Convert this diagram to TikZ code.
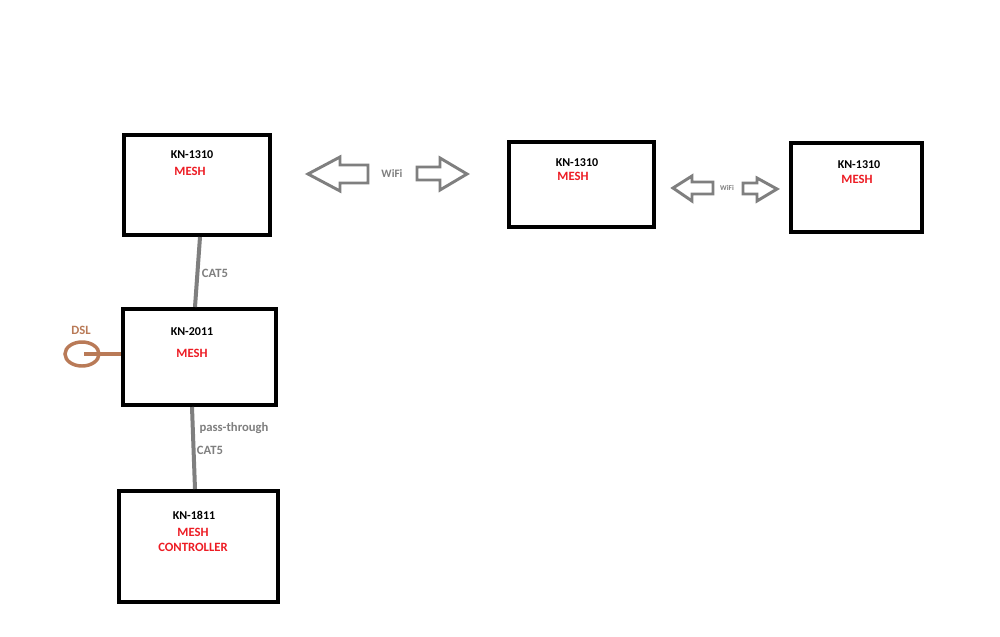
\documentclass[tikz,border=0pt]{standalone}
\usepackage{fontspec}
\setmainfont{Carlito}
\usetikzlibrary{calc,shapes.geometric}
\definecolor{meshred}{RGB}{237,28,36}
\definecolor{linegray}{RGB}{127,127,127}
\definecolor{dslbrown}{RGB}{185,122,87}
\tikzset{
  dev/.style={draw=black, line width=3pt, inner sep=0pt},
  title/.style={font=\bfseries\fontsize{9}{10}\selectfont, text=black, inner sep=0pt},
  redtxt/.style={font=\bfseries\fontsize{9.5}{10}\selectfont, text=meshred, inner sep=0pt},
  cable/.style={draw=linegray, line width=3pt},
  glabel/.style={font=\bfseries\fontsize{9.5}{10}\selectfont, text=linegray, inner sep=0pt},
  wifiarrow/.style={draw=linegray, line width=2.2pt, line join=miter},
}
\begin{document}
\begin{tikzpicture}[x=0.75pt, y=-0.75pt]
\useasboundingbox[fill=white] (0,0) rectangle (1000,636);
% boxes
\node[dev, minimum width=146*0.75pt, minimum height=100*0.75pt] (A) at (197,185) {};
\node[dev, minimum width=145*0.75pt, minimum height=85*0.75pt] (B) at (581.5,184.5) {};
\node[dev, minimum width=131*0.75pt, minimum height=89*0.75pt] (C) at (856.5,187.5) {};
\node[dev, minimum width=153*0.75pt, minimum height=96*0.75pt] (D) at (199.5,357) {};
\node[dev, minimum width=159*0.75pt, minimum height=111*0.75pt] (E) at (198.5,546.5) {};
% texts
\node[title] (At) at (192,155) {KN-1310};
\node[redtxt] (Am) at (190,171) {MESH};
\node[title] (Bt) at (577,163) {KN-1310};
\node[redtxt] (Bm) at (573,176) {MESH};
\node[title] (Ct) at (859,165) {KN-1310};
\node[redtxt] (Cm) at (857,179) {MESH};
\node[title] (Dt) at (192,332) {KN-2011};
\node[redtxt] (Dm) at (192,353) {MESH};
\node[title] (Et) at (194,515) {KN-1811};
\node[redtxt, align=center] (Em) at (193,540) {MESH\\[1pt]CONTROLLER};
% cables
\draw[cable] ($(A.south)+(3,0)$) -- ($(D.north)+(-4.5,0)$);
\node[glabel] (cat1) at (215,273) {CAT5};
\draw[cable] ($(D.south)+(-7.5,0)$) -- ($(E.north)+(-3.5,0)$);
\node[glabel] (pt) at (234,428) {pass-through};
\node[glabel] (cat2) at (210,450) {CAT5};
% DSL
\node[draw=dslbrown, line width=2.6pt, ellipse, minimum width=34*0.75pt, minimum height=24*0.75pt, inner sep=0pt] (dsl) at (82,354) {};
\coordinate (dslc) at (84,354);
\draw[draw=dslbrown, line width=2.6pt] (dslc) -- (D.west |- dslc);
\node[font=\bfseries\fontsize{9.5}{10}\selectfont, text=dslbrown, inner sep=0pt] (dslt) at (81,330) {DSL};
% wifi arrows 1
\draw[wifiarrow] (308,174) -- (340,157) -- (340,165) -- (368,165) -- (368,183) -- (340,183) -- (340,191) -- cycle;
\node[font=\bfseries\fontsize{8.5}{9}\selectfont, text=linegray, inner sep=0pt] (w1) at (392,174) {WiFi};
\draw[wifiarrow] (467,174) -- (440,158) -- (440,167) -- (417,167) -- (417,180) -- (440,180) -- (440,190) -- cycle;
% wifi arrows 2
\draw[wifiarrow] (673,188) -- (692,176) -- (692,182) -- (713,182) -- (713,194) -- (692,194) -- (692,201) -- cycle;
\node[font=\bfseries\fontsize{5.5}{6}\selectfont, text=linegray, inner sep=0pt] (w2) at (727,188) {WiFi};
\draw[wifiarrow] (777,189) -- (757,178) -- (757,183) -- (743,183) -- (743,194) -- (757,194) -- (757,201) -- cycle;
\end{tikzpicture}
\end{document}
